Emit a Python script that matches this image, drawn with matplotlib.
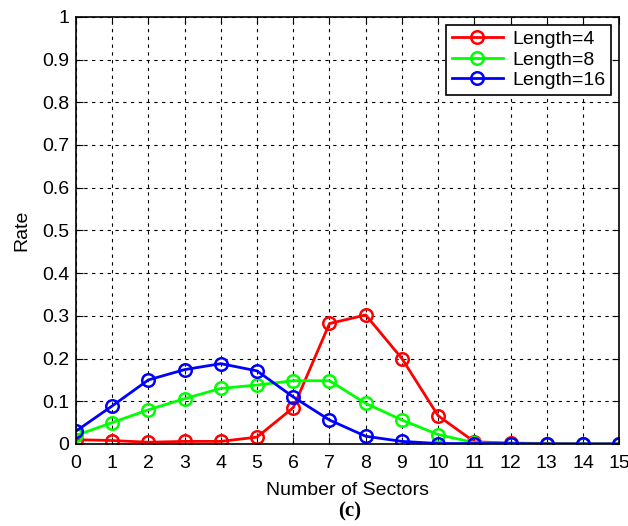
import matplotlib
matplotlib.use('Agg')
import matplotlib.pyplot as plt
import numpy as np

# Data
sectors = np.arange(16)
rate_len4 = [0.010, 0.008, 0.004, 0.006, 0.006, 0.016, 0.085, 0.282, 0.302, 0.200,
             0.066, 0.005, 0.002, 0.001, 0.000, 0.000]
rate_len8 = [0.020, 0.050, 0.080, 0.106, 0.130, 0.138, 0.148, 0.148, 0.095, 0.056,
             0.022, 0.003, 0.001, 0.000, 0.000, 0.000]
rate_len16 = [0.030, 0.089, 0.150, 0.174, 0.188, 0.171, 0.110, 0.056, 0.018, 0.006,
              0.001, 0.001, 0.001, 0.000, 0.000, 0.000]
labels = ['Length=4', 'Length=8', 'Length=16']
colors = ['#ff0000', '#00ff00', '#0000ff']

plt.rcParams['font.family'] = 'Liberation Sans'

fig = plt.figure(figsize=(6.28, 5.26), dpi=100)
ax = fig.add_axes([0.121, 0.156, 0.865, 0.812])

for ys, lab, c in zip([rate_len4, rate_len8, rate_len16], labels, colors):
    ax.plot(sectors, ys, '-o', color=c, lw=2, markersize=9, markerfacecolor='none',
            markeredgewidth=1.8, label=lab)

ax.set_xlim(0, 15)
ax.set_ylim(0, 1)
ax.set_xticks(sectors)
ax.set_yticks(np.arange(0, 1.01, 0.1))
ax.set_yticklabels(['0', '0.1', '0.2', '0.3', '0.4', '0.5', '0.6', '0.7', '0.8', '0.9', '1'])
ax.tick_params(direction='in', top=True, right=True, labelsize=14, length=5)
ax.tick_params(axis='x', pad=8)
ax.tick_params(axis='y', pad=5)
ax.grid(True, color='black', linestyle=(0, (3, 4)), linewidth=0.8)
for s in ax.spines.values():
    s.set_linewidth(1.2)

ax.set_xlabel('Number of Sectors', fontsize=14, labelpad=7)
ax.set_ylabel('Rate', fontsize=14, labelpad=8)

leg = ax.legend(loc='upper right', fontsize=14, fancybox=False, framealpha=1,
                edgecolor='black', handlelength=2.6, borderaxespad=0.4,
                labelspacing=0.15, borderpad=0.3, handletextpad=0.5)
leg.get_frame().set_linewidth(1.2)

fig.text(0.557, 0.028, '(c)', fontsize=15, fontweight='bold', family='Liberation Serif',
         ha='center', va='center')

fig.savefig('out.png', dpi=100)
